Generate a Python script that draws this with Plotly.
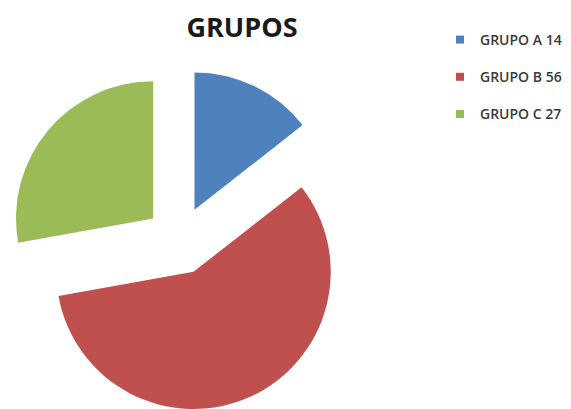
import plotly.graph_objects as go

categories = ["GRUPO A", "GRUPO B", "GRUPO C"]
values = [14, 56, 27]
colors = ["#4F81BD", "#C0504D", "#9BBB59"]
title_text = "GRUPOS"

labels = [f"{c} {v}" for c, v in zip(categories, values)]

W, H = 571, 409

fig = go.Figure()
fig.add_trace(go.Pie(
    labels=labels,
    values=values,
    sort=False,
    direction="clockwise",
    rotation=0,
    pull=[0.25, 0.25, 0.25],
    marker=dict(colors=colors, line=dict(width=0)),
    textinfo="none",
    hoverinfo="label+value",
    showlegend=False,
    domain=dict(x=[0, 343 / W], y=[2 / H, 351 / H]),
))

for lab, col in zip(labels, colors):
    fig.add_trace(go.Scatter(
        x=[None], y=[None], mode="markers", name=lab,
        marker=dict(symbol="square", size=8, color=col),
        legendgroup=lab, showlegend=True,
    ))

fig.update_layout(
    width=W, height=H,
    margin=dict(l=0, r=0, t=0, b=0),
    paper_bgcolor="white", plot_bgcolor="white",
    title=dict(text=title_text, x=234 / W, xanchor="center", y=1 - 20 / H, yanchor="middle",
               font=dict(family="Open Sans", size=27, color="#1a1a1a", weight="bold")),
    legend=dict(x=432 / W, xanchor="left", y=1 - 16 / H, yanchor="top",
                font=dict(family="Open Sans", size=14, color="#3a3a3a", weight=600),
                tracegroupgap=16, bgcolor="rgba(0,0,0,0)"),
    xaxis=dict(visible=False), yaxis=dict(visible=False),
)

fig.write_html("out.html")
